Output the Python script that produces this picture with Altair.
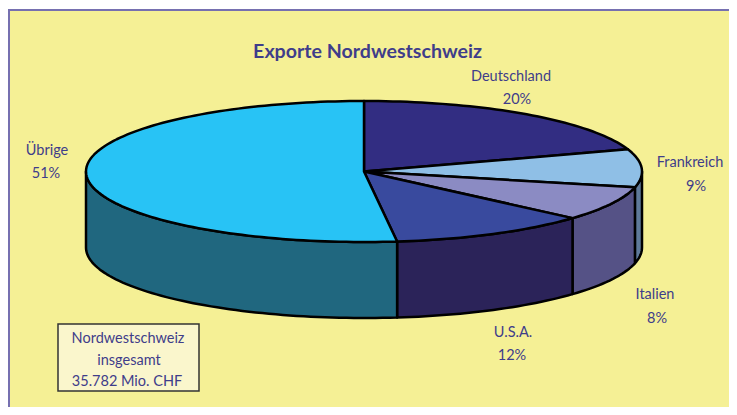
import math
import altair as alt
import pandas as pd

# --- chart values ---
countries = ["Deutschland", "Frankreich", "Italien", "U.S.A.", "Übrige"]
# slice sizes as measured on the drawn pie (percent); the printed labels are rounded
shares = [19.9, 8.7, 7.9, 11.6, 51.9]
top_colors = ["#322D82", "#8FBFE6", "#8B8BC3", "#394A9E", "#28C3F5"]
side_colors = ["#2B2359", "#5F7A9A", "#555286", "#2B2359", "#20677F"]
title_text = "Exporte Nordwestschweiz"
box_lines = ["Nordwestschweiz", "insgesamt", "35.782 Mio. CHF"]

# --- layout (page pixels, the page margin is taken off below) ---
M = 8
W, H = 721, 399
CX, CY = 364 - M, 171.5 - M
RX, RY = 278, 70.5
DEPTH = 76
INK = "#3F3D8A"
FONT = "Lato"
SW = 2.5
label_lines = [
    ("Deutschland", 511, 77), ("20%", 517, 100),
    ("Frankreich", 690, 163), ("9%", 696, 187),
    ("Italien", 655, 295), ("8%", 657, 319),
    ("U.S.A.", 513, 333), ("12%", 512, 356),
    ("Übrige", 47, 151), ("51%", 46, 174),
]
box_positions = [(128, 339), (129, 361), (127, 382)]

# x, y scales: pie radius = 1 unit, centred on the pie's axis
x_scale = alt.Scale(domain=[-CX / RX, (W - CX) / RX], range=[0, W], nice=False, zero=False)
y_scale = alt.Scale(domain=[-CY / RY, (H - CY) / RY], range=[0, H], nice=False, zero=False)
D = DEPTH / RY


def arc(a, b, dz=0.0, step=1.5):
    n = max(2, int(abs(b - a) / step) + 1)
    out = []
    for i in range(n + 1):
        t = math.radians(a + (b - a) * i / n)
        out.append((math.sin(t), -math.cos(t) + dz))
    return out


def polygon(points, fill):
    pts = pd.DataFrame(
        [{"u": u, "v": v, "i": i} for i, (u, v) in enumerate(points)]
    )
    return (
        alt.Chart(pts)
        .mark_line(interpolate="linear-closed", stroke="black", strokeWidth=SW,
                   strokeJoin="round", fill=fill, clip=False)
        .encode(
            x=alt.X("u:Q", scale=x_scale, axis=None),
            y=alt.Y("v:Q", scale=y_scale, axis=None),
            order=alt.Order("i:Q"),
        )
    )


def text_layer(rows, size=14.5, weight="normal"):
    df = pd.DataFrame(rows, columns=["t", "px", "py"])
    df["px"] = df["px"] - M
    df["py"] = df["py"] - M
    return (
        alt.Chart(df)
        .mark_text(font=FONT, fontSize=size, fontWeight=weight, color=INK,
                   align="center", baseline="middle")
        .encode(
            x=alt.X("px:Q", scale=None, axis=None),
            y=alt.Y("py:Q", scale=None, axis=None),
            text="t:N",
        )
    )


def rect_layer(x0, y0, x1, y1, fill, stroke, sw):
    return (
        alt.Chart(pd.DataFrame({"a": [0]}))
        .mark_rect(fill=fill, stroke=stroke, strokeWidth=sw)
        .encode(x=alt.value(x0), x2=alt.value(x1), y=alt.value(y0), y2=alt.value(y1))
    )


layers = [rect_layer(9 - M, 10 - M, W + 20, H + 20, "#F5F095", "#7670B0", 2)]

# slices' angular extents from the shares, clockwise from 12 o'clock
edges = [0.0]
for s in shares:
    edges.append(edges[-1] + s * 3.6)

# outer wall, front half only
for i in range(len(shares)):
    a, b = max(edges[i], 90), min(edges[i + 1], 270)
    if a < b:
        top = arc(a, b)
        bottom = arc(b, a, D)
        layers.append(polygon(top + bottom, side_colors[i]))

# top face
for i in range(len(shares)):
    layers.append(polygon([(0, 0)] + arc(edges[i], edges[i + 1]), top_colors[i]))

layers.append(text_layer([(title_text, 367.5, 52)], size=19.6, weight="bold"))
layers.append(text_layer(label_lines))
layers.append(rect_layer(58 - M, 324 - M, 199 - M, 391 - M, "#FAF6CC", "#333333", 1.5))
layers.append(text_layer([(t, p[0], p[1]) for t, p in zip(box_lines, box_positions)]))

chart = (
    alt.layer(*layers)
    .resolve_scale(x="independent", y="independent")
    .properties(
        width=W, height=H, background="white",
        padding=0, autosize=alt.AutoSizeParams(type="none"),
    )
    .configure_view(stroke=None)
)

chart.save("out.html", embed_options={"renderer": "svg", "actions": False})
